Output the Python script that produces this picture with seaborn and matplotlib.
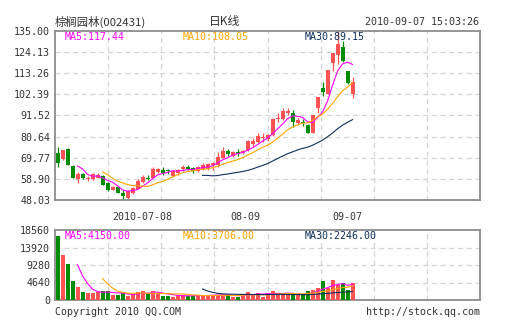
import numpy as np
import pandas as pd
import matplotlib
matplotlib.use("Agg")
import matplotlib.pyplot as plt
import seaborn as sns

# ---------------- data ----------------
opens = [72.4, 69.1, 74.2, 65.5, 59.0, 61.2, 58.7, 59.0, 59.5, 60.4,
         56.6, 53.2, 54.9, 51.8, 49.2, 51.5, 53.7, 57.5, 59.5, 59.5,
         62.6, 63.4, 63.0, 60.4, 61.7, 64.0, 65.2, 64.3, 62.9, 63.9,
         63.9, 66.0, 66.0, 69.8, 73.2, 70.8, 72.9, 72.0, 73.7, 76.6,
         77.7, 79.7, 79.2, 81.4, 89.5, 89.5, 92.6, 92.6, 87.8, 88.3,
         86.6, 82.6, 95.1, 105.7, 102.5, 118.2, 122.5, 126.8, 114.3, 102.3]
closes = [66.9, 73.7, 66.2, 59.5, 61.2, 59.5, 59.5, 61.2, 60.9, 55.8,
          53.2, 54.9, 51.8, 50.3, 52.7, 54.4, 58.0, 60.0, 58.7, 64.0,
          63.8, 61.7, 62.8, 62.9, 63.4, 65.2, 63.8, 63.1, 65.2, 66.0,
          66.5, 67.2, 70.3, 73.2, 71.5, 72.9, 71.5, 73.2, 78.5, 78.3,
          80.9, 80.2, 81.4, 89.6, 90.3, 93.8, 93.8, 88.3, 89.1, 87.4,
          82.6, 91.7, 101.1, 103.5, 114.8, 123.4, 128.4, 119.6, 108.0, 108.8]
highs = [75.4, 73.9, 74.9, 65.9, 62.3, 61.7, 60.4, 62.1, 62.1, 60.9,
         57.5, 55.2, 55.4, 53.2, 53.2, 54.9, 58.7, 60.9, 60.9, 65.2,
         64.3, 64.8, 64.0, 63.4, 63.9, 66.0, 66.0, 64.8, 65.5, 67.2,
         66.9, 67.7, 72.9, 75.4, 74.2, 73.4, 74.1, 73.7, 78.9, 80.0,
         82.6, 82.6, 81.9, 90.0, 92.6, 95.5, 95.1, 94.3, 90.3, 89.5,
         86.9, 91.7, 101.1, 108.8, 114.8, 123.4, 135.0, 129.9, 114.3, 111.4]
lows = [65.2, 68.6, 66.0, 59.3, 56.6, 59.0, 58.0, 58.3, 59.2, 55.6,
        52.7, 53.0, 51.5, 47.5, 48.6, 51.1, 53.5, 57.0, 58.3, 59.2,
        61.7, 60.9, 61.2, 59.7, 60.9, 62.9, 63.4, 61.7, 62.6, 63.4,
        63.4, 63.4, 65.2, 69.4, 70.6, 70.3, 70.8, 71.5, 73.2, 76.0,
        77.1, 78.0, 78.5, 81.1, 88.3, 89.1, 91.7, 85.7, 86.6, 86.1,
        82.3, 82.3, 92.9, 101.5, 102.5, 114.5, 117.9, 119.0, 107.5, 100.6]
volumes = [17000, 11930, 9540, 5035, 3450, 2120, 1855, 1855, 2000, 2400,
           2400, 1325, 1325, 1855, 1060, 1600, 2120, 2400, 1600, 2400,
           1850, 1060, 1060, 800, 1325, 1325, 1060, 1060, 1060, 1325,
           1430, 1430, 1430, 1220, 1220, 920, 920, 1520, 2130, 1520,
           1830, 920, 1830, 2440, 1830, 1520, 1520, 1520, 1830, 1220,
           2300, 2700, 3200, 5000, 3100, 5300, 3900, 4500, 2600, 4450]

price_ticks = [48.03, 58.90, 69.77, 80.64, 91.52, 102.39, 113.26, 124.13, 135.00]
vol_ticks = [0, 4640, 9280, 13920, 18560]
xtick_pos = [17, 37.5, 58]
xtick_labels = ["2010-07-08", "08-09", "09-07"]
ma_windows = [5, 10, 30]
price_ma_labels = ["MA5:117.44", "MA10:108.05", "MA30:89.15"]
vol_ma_labels = ["MA5:4150.00", "MA10:3706.00", "MA30:2246.00"]
title_text = "棕榈园林(002431)"
center_title = "日K线"
time_text = "2010-09-07 15:03:26"
footer_left = "Copyright 2010 QQ.COM"
footer_right = "http://stock.qq.com"

# ---------------- styling ----------------
W, H = 505, 330
RED = "#FF5252"
GREEN = "#008C00"
MA_COLORS = ["#FF00FF", "#FFA500", "#0E2F5C"]
GRID = "#D4D4D4"
SPINE = "#8C8C8C"
TXT = "#333333"
MONO = ["DejaVu Sans Mono"]
CJK = ["Noto Sans CJK SC", "DejaVu Sans"]

df = pd.DataFrame({"idx": np.arange(len(closes)), "open": opens, "close": closes,
                   "high": highs, "low": lows, "vol": volumes})
df["dir"] = np.where(df["close"] >= df["open"], "up", "down")
colors = np.where(df["dir"] == "up", RED, GREEN)

fig = plt.figure(figsize=(W / 100, H / 100), dpi=100)


def fx(x):
    return x / W


def fy(y):
    return 1 - y / H


ax = fig.add_axes([fx(55), fy(200), 425 / W, 169.3 / H])
axv = fig.add_axes([fx(55), fy(300), 425 / W, 70 / H])

XMIN, XMAX = -0.5, 84.5

for a in (ax, axv):
    a.set_xlim(XMIN, XMAX)
    for s in a.spines.values():
        s.set_color(SPINE)
        s.set_linewidth(1.3)
    for i in range(1, 8):
        a.axvline(XMIN + i * (XMAX - XMIN) / 8, color=GRID, lw=0.9,
                  ls=(0, (4, 3)), zorder=0)

# ---- price panel ----
ax.set_ylim(price_ticks[0], price_ticks[-1])
for t in price_ticks[1:-1]:
    ax.axhline(t, color=GRID, lw=0.9, ls=(0, (4, 3)), zorder=0)
ax.vlines(df["idx"], df["low"], df["high"], colors=colors, lw=0.9, zorder=2)
body = np.maximum((df["close"] - df["open"]).abs(), 0.45)
ax.bar(df["idx"], body, bottom=np.minimum(df["open"], df["close"]),
       width=0.8, color=colors, linewidth=0, zorder=3)

for w, c in zip(ma_windows, MA_COLORS):
    ma = df["close"].rolling(w).mean()
    d = pd.DataFrame({"x": df["idx"], "y": ma}).dropna()
    sns.lineplot(data=d, x="x", y="y", color=c, lw=0.8, ax=ax, zorder=4)

ax.set_yticks(price_ticks, [f"{t:.2f}" for t in price_ticks])
ax.set_xticks(xtick_pos, xtick_labels)
ax.tick_params(length=0, labelsize=7.2, colors=TXT, pad=3.5)
ax.tick_params(axis="x", pad=8.5)
for lab in ax.get_xticklabels() + ax.get_yticklabels():
    lab.set_family(MONO)
ax.set_xlabel("")
ax.set_ylabel("")

# ---- volume panel ----
sns.barplot(data=df, x="idx", y="vol", hue="dir",
            palette={"up": RED, "down": GREEN}, native_scale=True,
            width=0.8, dodge=False, errorbar=None, legend=False,
            saturation=1, linewidth=0, ax=axv, zorder=3)
for w, c in zip(ma_windows, MA_COLORS):
    ma = df["vol"].rolling(w).mean()
    d = pd.DataFrame({"x": df["idx"], "y": ma}).dropna()
    sns.lineplot(data=d, x="x", y="y", color=c, lw=0.8, ax=axv, zorder=4)
axv.set_xlim(XMIN, XMAX)
axv.set_ylim(vol_ticks[0], vol_ticks[-1])
for t in vol_ticks[1:-1]:
    axv.axhline(t, color=GRID, lw=0.9, ls=(0, (4, 3)), zorder=0)
axv.set_yticks(vol_ticks, [str(t) for t in vol_ticks])
axv.set_xticks([])
axv.tick_params(length=0, labelsize=7.2, colors=TXT, pad=3.5)
for lab in axv.get_yticklabels():
    lab.set_family(MONO)
axv.set_xlabel("")
axv.set_ylabel("")

# ---- texts ----
xs = [65, 183, 305]
for x, t, c in zip(xs, price_ma_labels, MA_COLORS):
    fig.text(fx(x), fy(37), t, color=c, fontsize=7.2, family=MONO,
             ha="left", va="center")
for x, t, c in zip(xs, vol_ma_labels, MA_COLORS):
    fig.text(fx(x), fy(236), t, color=c, fontsize=7.2, family=MONO,
             ha="left", va="center")

fig.text(fx(55), fy(22), title_text, color=TXT, fontsize=8.2, family=CJK,
         ha="left", va="center")
fig.text(fx(225), fy(22), center_title, color=TXT, fontsize=8.5, family=CJK,
         ha="center", va="center")
fig.text(fx(479), fy(22), time_text, color=TXT, fontsize=7.2, family=MONO,
         ha="right", va="center")
fig.text(fx(55), fy(312), footer_left, color=TXT, fontsize=7.2, family=MONO,
         ha="left", va="center")
fig.text(fx(480), fy(312), footer_right, color=TXT, fontsize=7.2, family=MONO,
         ha="right", va="center")

fig.savefig("out.png", dpi=100, facecolor="white")
